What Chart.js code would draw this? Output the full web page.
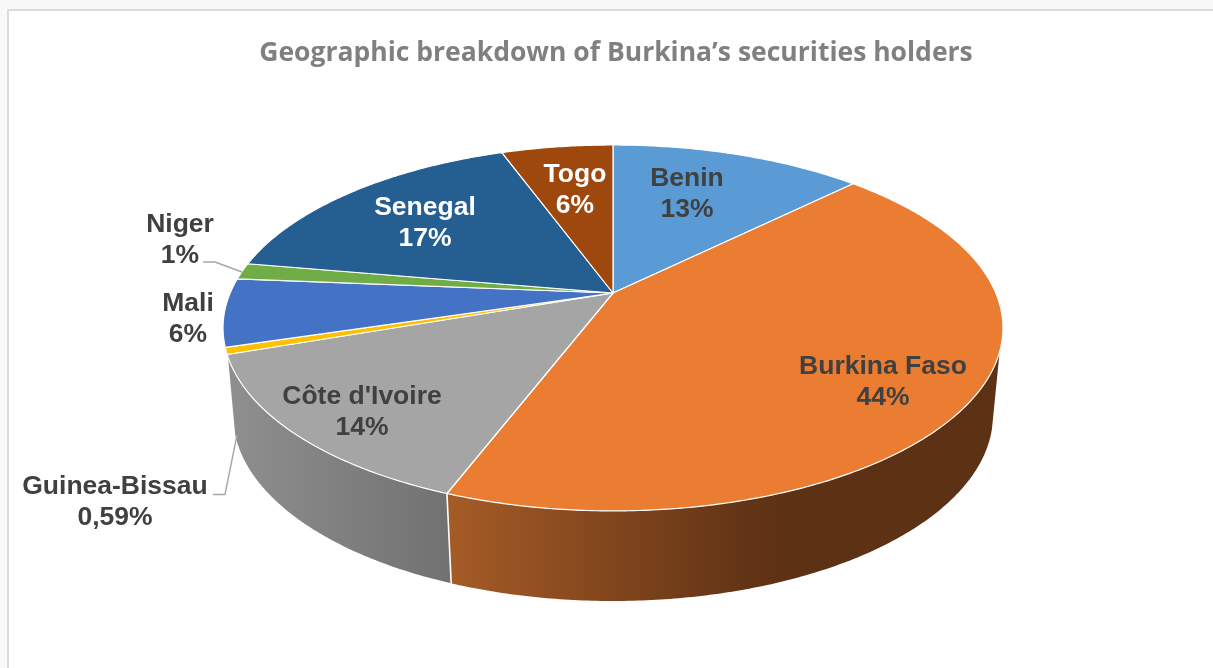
<!DOCTYPE html>
<html><head><meta charset="utf-8">
<style>html,body{margin:0;padding:0;background:#f8f8f8;overflow:hidden}canvas{display:block}</style>
<script src="https://cdn.jsdelivr.net/npm/chart.js"></script>
</head><body><canvas id="c" width="1213" height="668"></canvas>
<script>
const categories = ["Benin","Burkina Faso","Côte d'Ivoire","Guinea-Bissau","Mali","Niger","Senegal","Togo"];
const shares = [12.6,43.2,13.9,0.59,6.0,1.45,16.7,5.56];
const shareLabels = ["13%","44%","14%","0,59%","6%","1%","17%","6%"];
const sliceColors = ["#5B9BD5","#EB7D32","#A5A5A5","#FFC000","#4472C4","#70AD47","#255E91","#9E480E"];
const titleText = "Geographic breakdown of Burkina’s securities holders";

// Perspective projection of the pie's disc: top face and bottom rim
const K = 0.191;
const TOP = {cx:613, cy:293, rx:382.8, ry:176.3};
const BOTTOM = {cx:613, cy:379.5, rx:373, ry:179.2};
function project(p, a){ // a: angle as given by the arc element (0 = east)
  const t = a + Math.PI/2, s = Math.sin(t), c = Math.cos(t), w = 1 + K*c;
  return [p.cx + p.rx*s/w, p.cy - p.ry*c/w];
}
const deg = d => (d-90)*Math.PI/180;
const WALL_TOP = [deg(108.3), deg(250.1)];
const WALL_BOTTOM = [deg(105), deg(252.9)];
const wallShades = {
  1:{x0:450,x1:790,stops:[[0,"#A55B26"],[0.85,"#643516"],[1,"#5C3114"]]},
  2:{x0:237,x1:452,stops:[[0,"#8E8E8E"],[1,"#717171"]]}
};
const labelPlace = {
  0:{x:687,y:179,color:"#404040"},1:{x:883,y:367,color:"#404040"},2:{x:362,y:397,color:"#404040"},
  3:{x:115,y:487,color:"#404040"},4:{x:188,y:304,color:"#404040"},5:{x:180,y:225,color:"#404040"},
  6:{x:425,y:208,color:"#FFFFFF"},7:{x:575,y:175,color:"#FFFFFF"}
};
const leaders = {
  5:[[203,262],[215,262],[242,272]],
  3:[[213,494.5],[225,494.5],[237,435]]
};
function rimPath(ctx,p,a0,a1,first){
  const n = Math.max(4,Math.ceil(Math.abs(a1-a0)/0.01));
  for(let i=0;i<=n;i++){
    const q = project(p,a0+(a1-a0)*i/n);
    if(i===0&&first) ctx.moveTo(q[0],q[1]); else ctx.lineTo(q[0],q[1]);
  }
}
const pie3d = {
  id:'pie3d',
  beforeDraw(chart){
    const ctx = chart.ctx;
    ctx.save();
    ctx.fillStyle="#fff"; ctx.fillRect(8,10,1205,658);
    ctx.strokeStyle="#dcdcdc"; ctx.lineWidth=2;
    ctx.beginPath(); ctx.moveTo(8,668); ctx.lineTo(8,10); ctx.lineTo(1213,10); ctx.stroke();
    ctx.restore();
  },
  beforeDatasetsDraw(chart){
    const ctx = chart.ctx, arcs = chart.getDatasetMeta(0).data;
    ctx.save();
    // side walls
    arcs.forEach((el,i)=>{
      const a0 = Math.max(el.startAngle,WALL_TOP[0]), a1 = Math.min(el.endAngle,WALL_TOP[1]);
      if(a1<=a0) return;
      const b0 = el.startAngle<=WALL_TOP[0] ? WALL_BOTTOM[0] : a0;
      const b1 = el.endAngle>=WALL_TOP[1] ? WALL_BOTTOM[1] : a1;
      ctx.beginPath();
      rimPath(ctx,TOP,a0,a1,true);
      rimPath(ctx,BOTTOM,b1,b0,false);
      ctx.closePath();
      const sh = wallShades[i];
      if(sh){
        const g = ctx.createLinearGradient(sh.x0,0,sh.x1,0);
        sh.stops.forEach(s=>g.addColorStop(s[0],s[1]));
        ctx.fillStyle = g;
      } else ctx.fillStyle = el.options.backgroundColor;
      ctx.fill();
    });
    // white divider between the visible walls
    arcs.forEach(el=>{
      if(el.startAngle>WALL_TOP[0] && el.startAngle<WALL_TOP[1]){
        const p=project(TOP,el.startAngle), q=project(BOTTOM,el.startAngle);
        ctx.strokeStyle="#fff"; ctx.lineWidth=1.6;
        ctx.beginPath(); ctx.moveTo(p[0],p[1]); ctx.lineTo(q[0],q[1]); ctx.stroke();
      }
    });
    // top face
    arcs.forEach(el=>{
      ctx.beginPath();
      ctx.moveTo(TOP.cx,TOP.cy);
      rimPath(ctx,TOP,el.startAngle,el.endAngle,false);
      ctx.closePath();
      ctx.fillStyle = el.options.backgroundColor;
      ctx.fill();
      ctx.strokeStyle = "#fff"; ctx.lineWidth = 1.2; ctx.lineJoin="round";
      ctx.stroke();
    });
    ctx.restore();
    return false;
  },
  afterDraw(chart){
    const ctx = chart.ctx;
    ctx.save();
    ctx.strokeStyle="#a6a6a6"; ctx.lineWidth=1.4;
    Object.values(leaders).forEach(l=>{
      ctx.beginPath(); l.forEach((q,i)=> i?ctx.lineTo(q[0],q[1]):ctx.moveTo(q[0],q[1])); ctx.stroke();
    });
    ctx.font='bold 26.5px "Liberation Sans", Arial, sans-serif';
    ctx.textAlign="center"; ctx.textBaseline="middle";
    categories.forEach((name,i)=>{
      const p = labelPlace[i];
      ctx.fillStyle = p.color;
      ctx.fillText(name,p.x,p.y);
      ctx.fillText(shareLabels[i],p.x,p.y+31);
    });
    ctx.restore();
  }
};
new Chart(document.getElementById('c'),{
  type:'pie',
  data:{labels:categories,datasets:[{data:shares,backgroundColor:sliceColors}]},
  options:{
    responsive:false,animation:false,
    layout:{padding:{left:19}},
    plugins:{
      legend:{display:false},tooltip:{enabled:false},
      title:{display:true,text:titleText,color:"#808080",
        font:{family:'"Open Sans"',size:26.5,weight:'bold'},
        padding:{top:38,bottom:10}}
    }
  },
  plugins:[pie3d]
});
</script></body></html>
